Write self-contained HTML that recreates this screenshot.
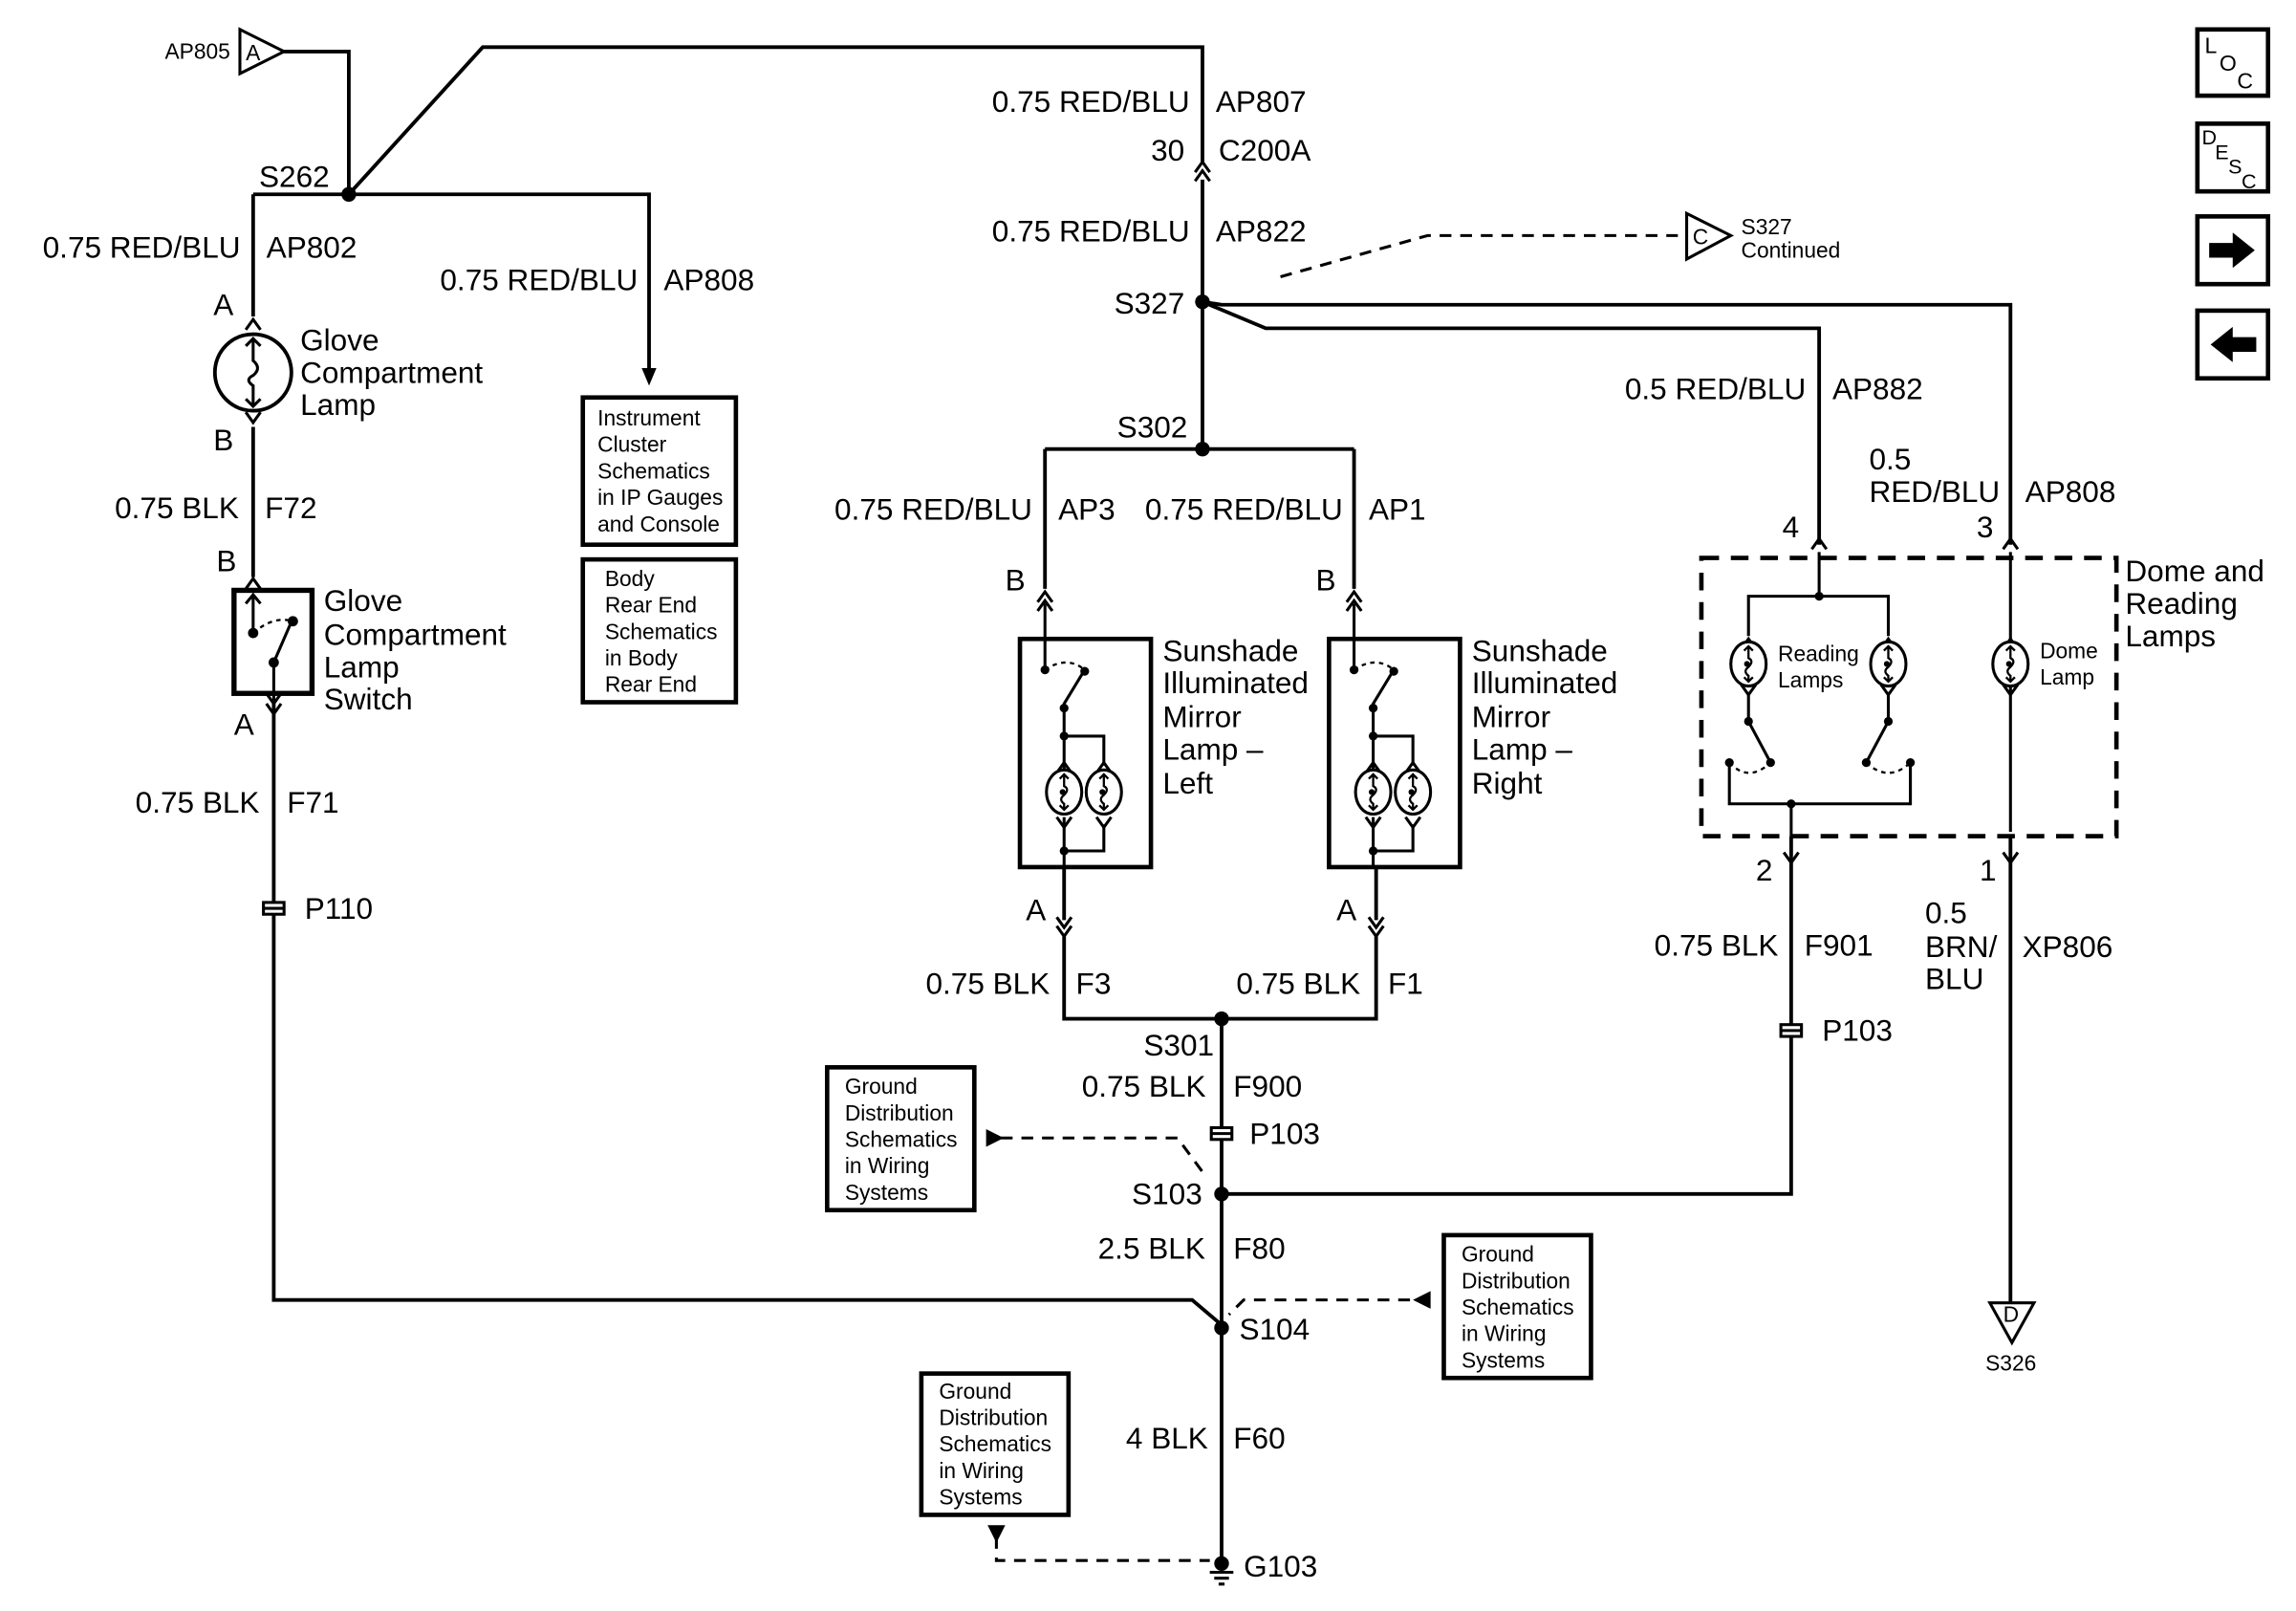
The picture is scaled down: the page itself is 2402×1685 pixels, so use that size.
<!DOCTYPE html>
<html><head><meta charset="utf-8"><style>
html,body{margin:0;padding:0;background:#fff;}
svg{display:block;}
text{font-family:"Liberation Sans",sans-serif;fill:#000;}
.l{font-size:20.5px;}
.s{font-size:14.8px;}
</style></head><body>
<svg width="2402" height="1685" viewBox="0 0 1560 1094.3" preserveAspectRatio="none" xmlns="http://www.w3.org/2000/svg">
<defs>
<path id="up" d="M-5,7 L0,0 L5,7" fill="none" stroke="#000" stroke-width="2"/>
<path id="dn" d="M-5,-7 L0,0 L5,-7" fill="none" stroke="#000" stroke-width="2"/>
<g id="bulb"><ellipse cx="0" cy="0" rx="12" ry="15" fill="#fff" stroke="#000" stroke-width="2"/><path d="M0,-12 V-4 Q4,-2 0,2 Q-4,5 0,8 V12 M-3,-9 L0,-12 L3,-9 M-3,9 L0,12 L3,9" fill="none" stroke="#000" stroke-width="1.5"/><circle cx="-1" cy="0" r="2"/></g>
<g id="ipin"><rect x="-7" y="-4" width="14" height="8" fill="#fff" stroke="#000" stroke-width="2"/><line x1="-7" y1="0" x2="7" y2="0" stroke="#000" stroke-width="2"/></g>
</defs>
<g stroke="#000" stroke-width="2.5" fill="none">
<path d="M193,35 H237 V132"/>
<path d="M237,132 L328,32 H817 V110"/>
<path d="M817,122 V305"/>
<path d="M172,132 H441 V252"/>
<path d="M172,132 V215"/>
<path d="M172,290 V392"/>
<path d="M186,478 V883 H810 L830,900"/>
<path d="M817,205 L860,223 H1236 V370"/>
<path d="M817,205 L830,207 H1366 V370"/>
<path d="M710,305 H920"/>
<path d="M710,305 V400 M920,305 V400"/>
<path d="M723,590 V625 M935,590 V625"/>
<path d="M723,636 V692 H935 V636"/>
<path d="M830,692 V1065"/>
<path d="M830,811 H1217 V582"/>
<path d="M1366,568 V885"/>
<path d="M1217,568 V582"/>
</g>
<g fill="#000">
<circle cx="237" cy="132" r="5"/><circle cx="817" cy="205" r="5"/><circle cx="817" cy="305" r="5"/>
<circle cx="830" cy="692" r="5"/><circle cx="830" cy="811" r="5"/><circle cx="830" cy="902" r="5"/><circle cx="830" cy="1062" r="5"/>
</g>
<use href="#up" x="817" y="110"/><use href="#up" x="817" y="116"/>
<use href="#up" x="172" y="217"/><use href="#dn" x="172" y="287"/>
<use href="#up" x="172" y="393"/><use href="#dn" x="186" y="485"/>
<use href="#up" x="710" y="402"/><use href="#up" x="710" y="408"/>
<use href="#up" x="920" y="402"/><use href="#up" x="920" y="408"/>
<use href="#dn" x="723" y="630"/><use href="#dn" x="723" y="636"/>
<use href="#dn" x="935" y="630"/><use href="#dn" x="935" y="636"/>
<use href="#up" x="1236" y="366"/><use href="#up" x="1366" y="366"/>
<use href="#dn" x="1217" y="586"/><use href="#dn" x="1366" y="586"/>
<path d="M436,250 L441,262 L446,250 Z" fill="#000"/>
<circle cx="172" cy="253" r="26" fill="#fff" stroke="#000" stroke-width="2.5"/>
<path d="M172,230 V245 Q178,250 172,255 Q166,258 172,262 V276 M167,235 L172,230 L177,235 M167,271 L172,276 L177,271" fill="none" stroke="#000" stroke-width="2"/>
<rect x="159" y="401" width="53" height="70" fill="#fff" stroke="#000" stroke-width="3.5"/>
<path d="M172,404 V430 M167,410 L172,404 L177,410 M186,450 L199,420 M186,450 V478 M181,471 L186,478 L191,471" fill="none" stroke="#000" stroke-width="2"/>
<path d="M172,430 Q186,418 199,422" fill="none" stroke="#000" stroke-width="1.5" stroke-dasharray="3,3"/>
<circle cx="172" cy="430" r="3.5"/><circle cx="199" cy="422" r="3.5"/><circle cx="186" cy="450" r="3.5"/>
<g id="sun">
<rect x="693" y="434" width="89" height="155" fill="#fff" stroke="#000" stroke-width="3"/>
<path d="M710,410 V455 M723,573 V590 M723,555 V578 H750 V560 M723,530 V478 L737,455 M723,500 H750 V520 M723,500 V520" fill="none" stroke="#000" stroke-width="2"/>
<path d="M710,455 Q725,445 737,455" fill="none" stroke="#000" stroke-width="1.5" stroke-dasharray="3,3"/>
<circle cx="710" cy="455" r="3"/><circle cx="737" cy="456" r="3"/><circle cx="723" cy="481" r="3"/><circle cx="723" cy="500" r="3"/><circle cx="723" cy="578" r="3"/>
<use href="#up" x="723" y="518"/><use href="#up" x="750" y="518"/>
<use href="#bulb" x="723" y="538"/><use href="#bulb" x="750" y="538"/>
<use href="#dn" x="723" y="562"/><use href="#dn" x="750" y="562"/>
</g>
<use href="#sun" x="210" y="0"/>
<rect x="1156" y="379" width="282" height="189" fill="none" stroke="#000" stroke-width="3" stroke-dasharray="12,8"/>
<g fill="none" stroke="#000" stroke-width="2">
<path d="M1236,375 V405 M1188,432 V405 H1283 V432"/>
<path d="M1188,470 V490 L1203,518 M1283,470 V490 L1268,518"/>
<path d="M1175,518 V546 H1298 V518 M1217,546 V568 M1366,375 V565"/>
</g>
<g fill="none" stroke="#000" stroke-width="1.5" stroke-dasharray="3,3"><path d="M1175,518 Q1188,532 1203,518"/><path d="M1268,518 Q1283,532 1298,518"/></g>
<g fill="#000"><circle cx="1236" cy="405" r="3"/><circle cx="1188" cy="490" r="3"/><circle cx="1283" cy="490" r="3"/><circle cx="1203" cy="518" r="3"/><circle cx="1175" cy="518" r="3"/><circle cx="1268" cy="518" r="3"/><circle cx="1298" cy="518" r="3"/><circle cx="1217" cy="546" r="3"/></g>
<use href="#up" x="1188" y="434"/><use href="#up" x="1283" y="434"/><use href="#up" x="1366" y="434"/>
<use href="#bulb" x="1188" y="451"/><use href="#bulb" x="1283" y="451"/><use href="#bulb" x="1366" y="451"/>
<use href="#dn" x="1188" y="472"/><use href="#dn" x="1283" y="472"/><use href="#dn" x="1366" y="472"/>
<use href="#ipin" x="186" y="617"/><use href="#ipin" x="830" y="770"/><use href="#ipin" x="1217" y="700"/>
<path d="M822,1068 H838 M825,1072 H835 M828,1076 H832" stroke="#000" stroke-width="2"/>
<path d="M163,20 L193,35 L163,50 Z" fill="#fff" stroke="#000" stroke-width="2"/>
<path d="M1146,145 L1176,160 L1146,176 Z" fill="#fff" stroke="#000" stroke-width="2"/>
<path d="M1352,885 L1382,885 L1367,912 Z" fill="#fff" stroke="#000" stroke-width="2"/>
<g fill="none" stroke="#000" stroke-width="2" stroke-dasharray="8,6">
<path d="M870,188 L970,160 H1140"/>
<path d="M680,773 H800 L820,800"/>
<path d="M958,883 H845 L835,893"/>
<path d="M677,1044 V1060 H822"/>
</g>
<path d="M670,767 L682,773 L670,779 Z M972,877 L960,883 L972,889 Z M671,1036 H683 L677,1048 Z" fill="#000"/>
<g fill="#fff" stroke="#000" stroke-width="3">
<rect x="396" y="270" width="104" height="100"/><rect x="396" y="380" width="104" height="97"/>
<rect x="562" y="725" width="100" height="97"/><rect x="981" y="839" width="100" height="97"/><rect x="626" y="933" width="100" height="96"/>
<rect x="1493" y="20" width="48" height="45"/><rect x="1493" y="84" width="48" height="46"/><rect x="1493" y="147" width="48" height="46"/><rect x="1493" y="211" width="48" height="46"/>
</g>
<path d="M1501,165 H1517 V158 L1532,170 L1517,182 V175 H1501 Z M1533,229 H1517 V222 L1502,234 L1517,246 V239 H1533 Z" fill="#000"/>
<g class="s">
<text x="1498" y="36" font-size="15">L</text><text x="1508" y="48" font-size="15">O</text><text x="1520" y="60" font-size="15">C</text>
<text x="1496" y="98" font-size="14">D</text><text x="1505" y="108" font-size="14">E</text><text x="1514" y="118" font-size="14">S</text><text x="1523" y="128" font-size="14">C</text>
<text x="406" y="289">Instrument</text><text x="406" y="307">Cluster</text><text x="406" y="325">Schematics</text><text x="406" y="343">in IP Gauges</text><text x="406" y="361">and Console</text>
<text x="411" y="398">Body</text><text x="411" y="416">Rear End</text><text x="411" y="434">Schematics</text><text x="411" y="452">in Body</text><text x="411" y="470">Rear End</text>
<text x="574" y="743">Ground</text><text x="574" y="761">Distribution</text><text x="574" y="779">Schematics</text><text x="574" y="797">in Wiring</text><text x="574" y="815">Systems</text>
<text x="993" y="857">Ground</text><text x="993" y="875">Distribution</text><text x="993" y="893">Schematics</text><text x="993" y="911">in Wiring</text><text x="993" y="929">Systems</text>
<text x="638" y="950">Ground</text><text x="638" y="968">Distribution</text><text x="638" y="986">Schematics</text><text x="638" y="1004">in Wiring</text><text x="638" y="1022">Systems</text>
<text x="112" y="40">AP805</text><text x="167" y="41">A</text>
<text x="1150" y="166">C</text><text x="1183" y="159">S327</text><text x="1183" y="175">Continued</text>
<text x="1361" y="898">D</text><text x="1349" y="931">S326</text>
<text x="1208" y="449">Reading</text><text x="1208" y="467">Lamps</text>
<text x="1386" y="447">Dome</text><text x="1386" y="465">Lamp</text>
</g>
<g class="l">
<text x="674" y="76">0.75 RED/BLU</text><text x="826" y="76">AP807</text>
<text x="782" y="109">30</text><text x="828" y="109">C200A</text>
<text x="674" y="164">0.75 RED/BLU</text><text x="826" y="164">AP822</text>
<text x="757" y="213">S327</text>
<text x="176" y="127">S262</text>
<text x="29" y="175">0.75 RED/BLU</text><text x="181" y="175">AP802</text>
<text x="299" y="197">0.75 RED/BLU</text><text x="451" y="197">AP808</text>
<text x="145" y="214">A</text><text x="145" y="306">B</text>
<text x="204" y="238">Glove</text><text x="204" y="260">Compartment</text><text x="204" y="282">Lamp</text>
<text x="78" y="352">0.75 BLK</text><text x="180" y="352">F72</text>
<text x="147" y="388">B</text>
<text x="220" y="415">Glove</text><text x="220" y="438">Compartment</text><text x="220" y="460">Lamp</text><text x="220" y="482">Switch</text>
<text x="159" y="499">A</text>
<text x="92" y="552">0.75 BLK</text><text x="195" y="552">F71</text>
<text x="207" y="624">P110</text>
<text x="759" y="297">S302</text>
<text x="567" y="353">0.75 RED/BLU</text><text x="719" y="353">AP3</text>
<text x="778" y="353">0.75 RED/BLU</text><text x="930" y="353">AP1</text>
<text x="683" y="401">B</text><text x="894" y="401">B</text>
<text x="790" y="449">Sunshade</text><text x="790" y="471">Illuminated</text><text x="790" y="494">Mirror</text><text x="790" y="516">Lamp –</text><text x="790" y="539">Left</text>
<text x="1000" y="449">Sunshade</text><text x="1000" y="471">Illuminated</text><text x="1000" y="494">Mirror</text><text x="1000" y="516">Lamp –</text><text x="1000" y="539">Right</text>
<text x="697" y="625">A</text><text x="908" y="625">A</text>
<text x="629" y="675">0.75 BLK</text><text x="731" y="675">F3</text>
<text x="840" y="675">0.75 BLK</text><text x="943" y="675">F1</text>
<text x="777" y="717">S301</text>
<text x="735" y="745">0.75 BLK</text><text x="838" y="745">F900</text>
<text x="849" y="777">P103</text>
<text x="769" y="818">S103</text>
<text x="746" y="855">2.5 BLK</text><text x="838" y="855">F80</text>
<text x="842" y="910">S104</text>
<text x="765" y="984">4 BLK</text><text x="838" y="984">F60</text>
<text x="845" y="1071">G103</text>
<text x="1104" y="271">0.5 RED/BLU</text><text x="1245" y="271">AP882</text>
<text x="1270" y="319">0.5</text><text x="1270" y="341">RED/BLU</text><text x="1376" y="341">AP808</text>
<text x="1211" y="365">4</text><text x="1343" y="365">3</text>
<text x="1444" y="395">Dome and</text><text x="1444" y="417">Reading</text><text x="1444" y="439">Lamps</text>
<text x="1193" y="598">2</text><text x="1345" y="598">1</text>
<text x="1124" y="649">0.75 BLK</text><text x="1226" y="649">F901</text>
<text x="1238" y="707">P103</text>
<text x="1308" y="627">0.5</text><text x="1308" y="650">BRN/</text><text x="1308" y="672">BLU</text><text x="1374" y="650">XP806</text>
</g>
</svg>
</body></html>
